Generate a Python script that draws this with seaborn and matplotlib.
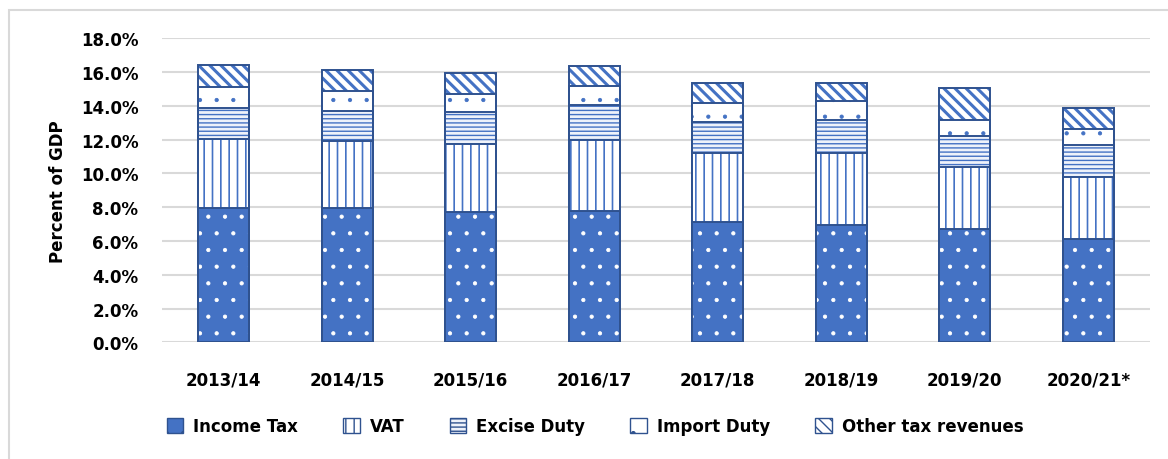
import numpy as np
import pandas as pd
import matplotlib.pyplot as plt
import seaborn as sns
from matplotlib.patches import Patch, Rectangle
from matplotlib.ticker import FuncFormatter

# values (percent of GDP)
years = ["2013/14", "2014/15", "2015/16", "2016/17", "2017/18", "2018/19", "2019/20", "2020/21*"]
income_tax = [7.96, 7.93, 7.73, 7.75, 7.14, 6.96, 6.70, 6.11]
vat = [4.07, 4.00, 4.00, 4.24, 4.04, 4.22, 3.66, 3.65]
excise_duty = [1.83, 1.77, 1.88, 2.05, 1.84, 1.99, 1.83, 1.91]
import_duty = [1.23, 1.19, 1.12, 1.14, 1.14, 1.09, 0.96, 0.95]
other_tax = [1.31, 1.22, 1.24, 1.19, 1.22, 1.12, 1.88, 1.24]

series_names = ["Income Tax", "VAT", "Excise Duty", "Import Duty", "Other tax revenues"]

df = pd.DataFrame({
    "Year": years,
    "Income Tax": income_tax,
    "VAT": vat,
    "Excise Duty": excise_duty,
    "Import Duty": import_duty,
    "Other tax revenues": other_tax,
})
# cumulative tops for stacking (drawn from the top layer down)
cum = df[series_names].cumsum(axis=1)
for name in series_names:
    df["top_" + name] = cum[name]

blue = "#4472C4"
dark = "#2F528F"
# name -> (face, hatch, hatch colour, hatch linewidth)
styles = {
    "Income Tax": (blue, ".", "white", 0.6),
    "VAT": ("white", "||", blue, 1.2),
    "Excise Duty": ("#EEF2FA", "----", blue, 1.0),
    "Import Duty": ("white", ".", blue, 0.6),
    "Other tax revenues": ("white", "\\\\\\", blue, 2.2),
}

plt.rcParams["font.family"] = "DejaVu Sans"
plt.rcParams["font.weight"] = "bold"

fig = plt.figure(figsize=(11.68, 4.6), dpi=100)
ax = fig.add_axes([162 / 1168, 1 - 343.3 / 460, (1150 - 162) / 1168, (343.3 - 39.3) / 460])

bar_w = 0.41
for name in reversed(series_names):
    face, hatch, hcol, hlw = styles[name]
    with plt.rc_context({"hatch.linewidth": hlw}):
        sns.barplot(data=df, x="Year", y="top_" + name, color=face, saturation=1,
                    hatch=hatch, edgecolor=hcol, linewidth=0, width=bar_w,
                    errorbar=None, ax=ax, zorder=2)
# segment outlines
for name in reversed(series_names):
    sns.barplot(data=df, x="Year", y="top_" + name, color=dark, fill=False,
                linewidth=1.4, width=bar_w, errorbar=None, ax=ax, zorder=3)

ax.set_ylim(0, 18)
ax.set_yticks(np.arange(0, 18.1, 2))
ax.yaxis.set_major_formatter(FuncFormatter(lambda v, p: f"{v:.1f}%"))
ax.yaxis.grid(True, color="#D9D9D9", linewidth=1.5)
ax.set_axisbelow(True)
for s in ax.spines.values():
    s.set_visible(False)
ax.tick_params(axis="both", length=0, labelsize=12)
ax.tick_params(axis="y", pad=17)
ax.tick_params(axis="x", pad=20)
ax.set_xlabel("")
ax.set_ylabel("Percent of GDP", fontsize=12, fontweight="bold", labelpad=10)

handles = []
for name in series_names:
    face, hatch, hcol, hlw = styles[name]
    handles.append(Patch(facecolor=face, hatch=hatch, edgecolor=dark, label=name))
fig.legend(handles=handles, loc="center", bbox_to_anchor=(595 / 1168, 1 - 427 / 460),
           ncol=5, frameon=False, fontsize=12, handlelength=1.0, handleheight=1.0,
           columnspacing=2.7, handletextpad=0.6)

# light chart-area border
fig.patches.append(Rectangle((8.5 / 1168, -0.05), 1.1, 1 - 11 / 460 + 0.05, fill=False,
                             edgecolor="#D9D9D9", linewidth=1.5, transform=fig.transFigure))

fig.savefig("out.png", dpi=100)
